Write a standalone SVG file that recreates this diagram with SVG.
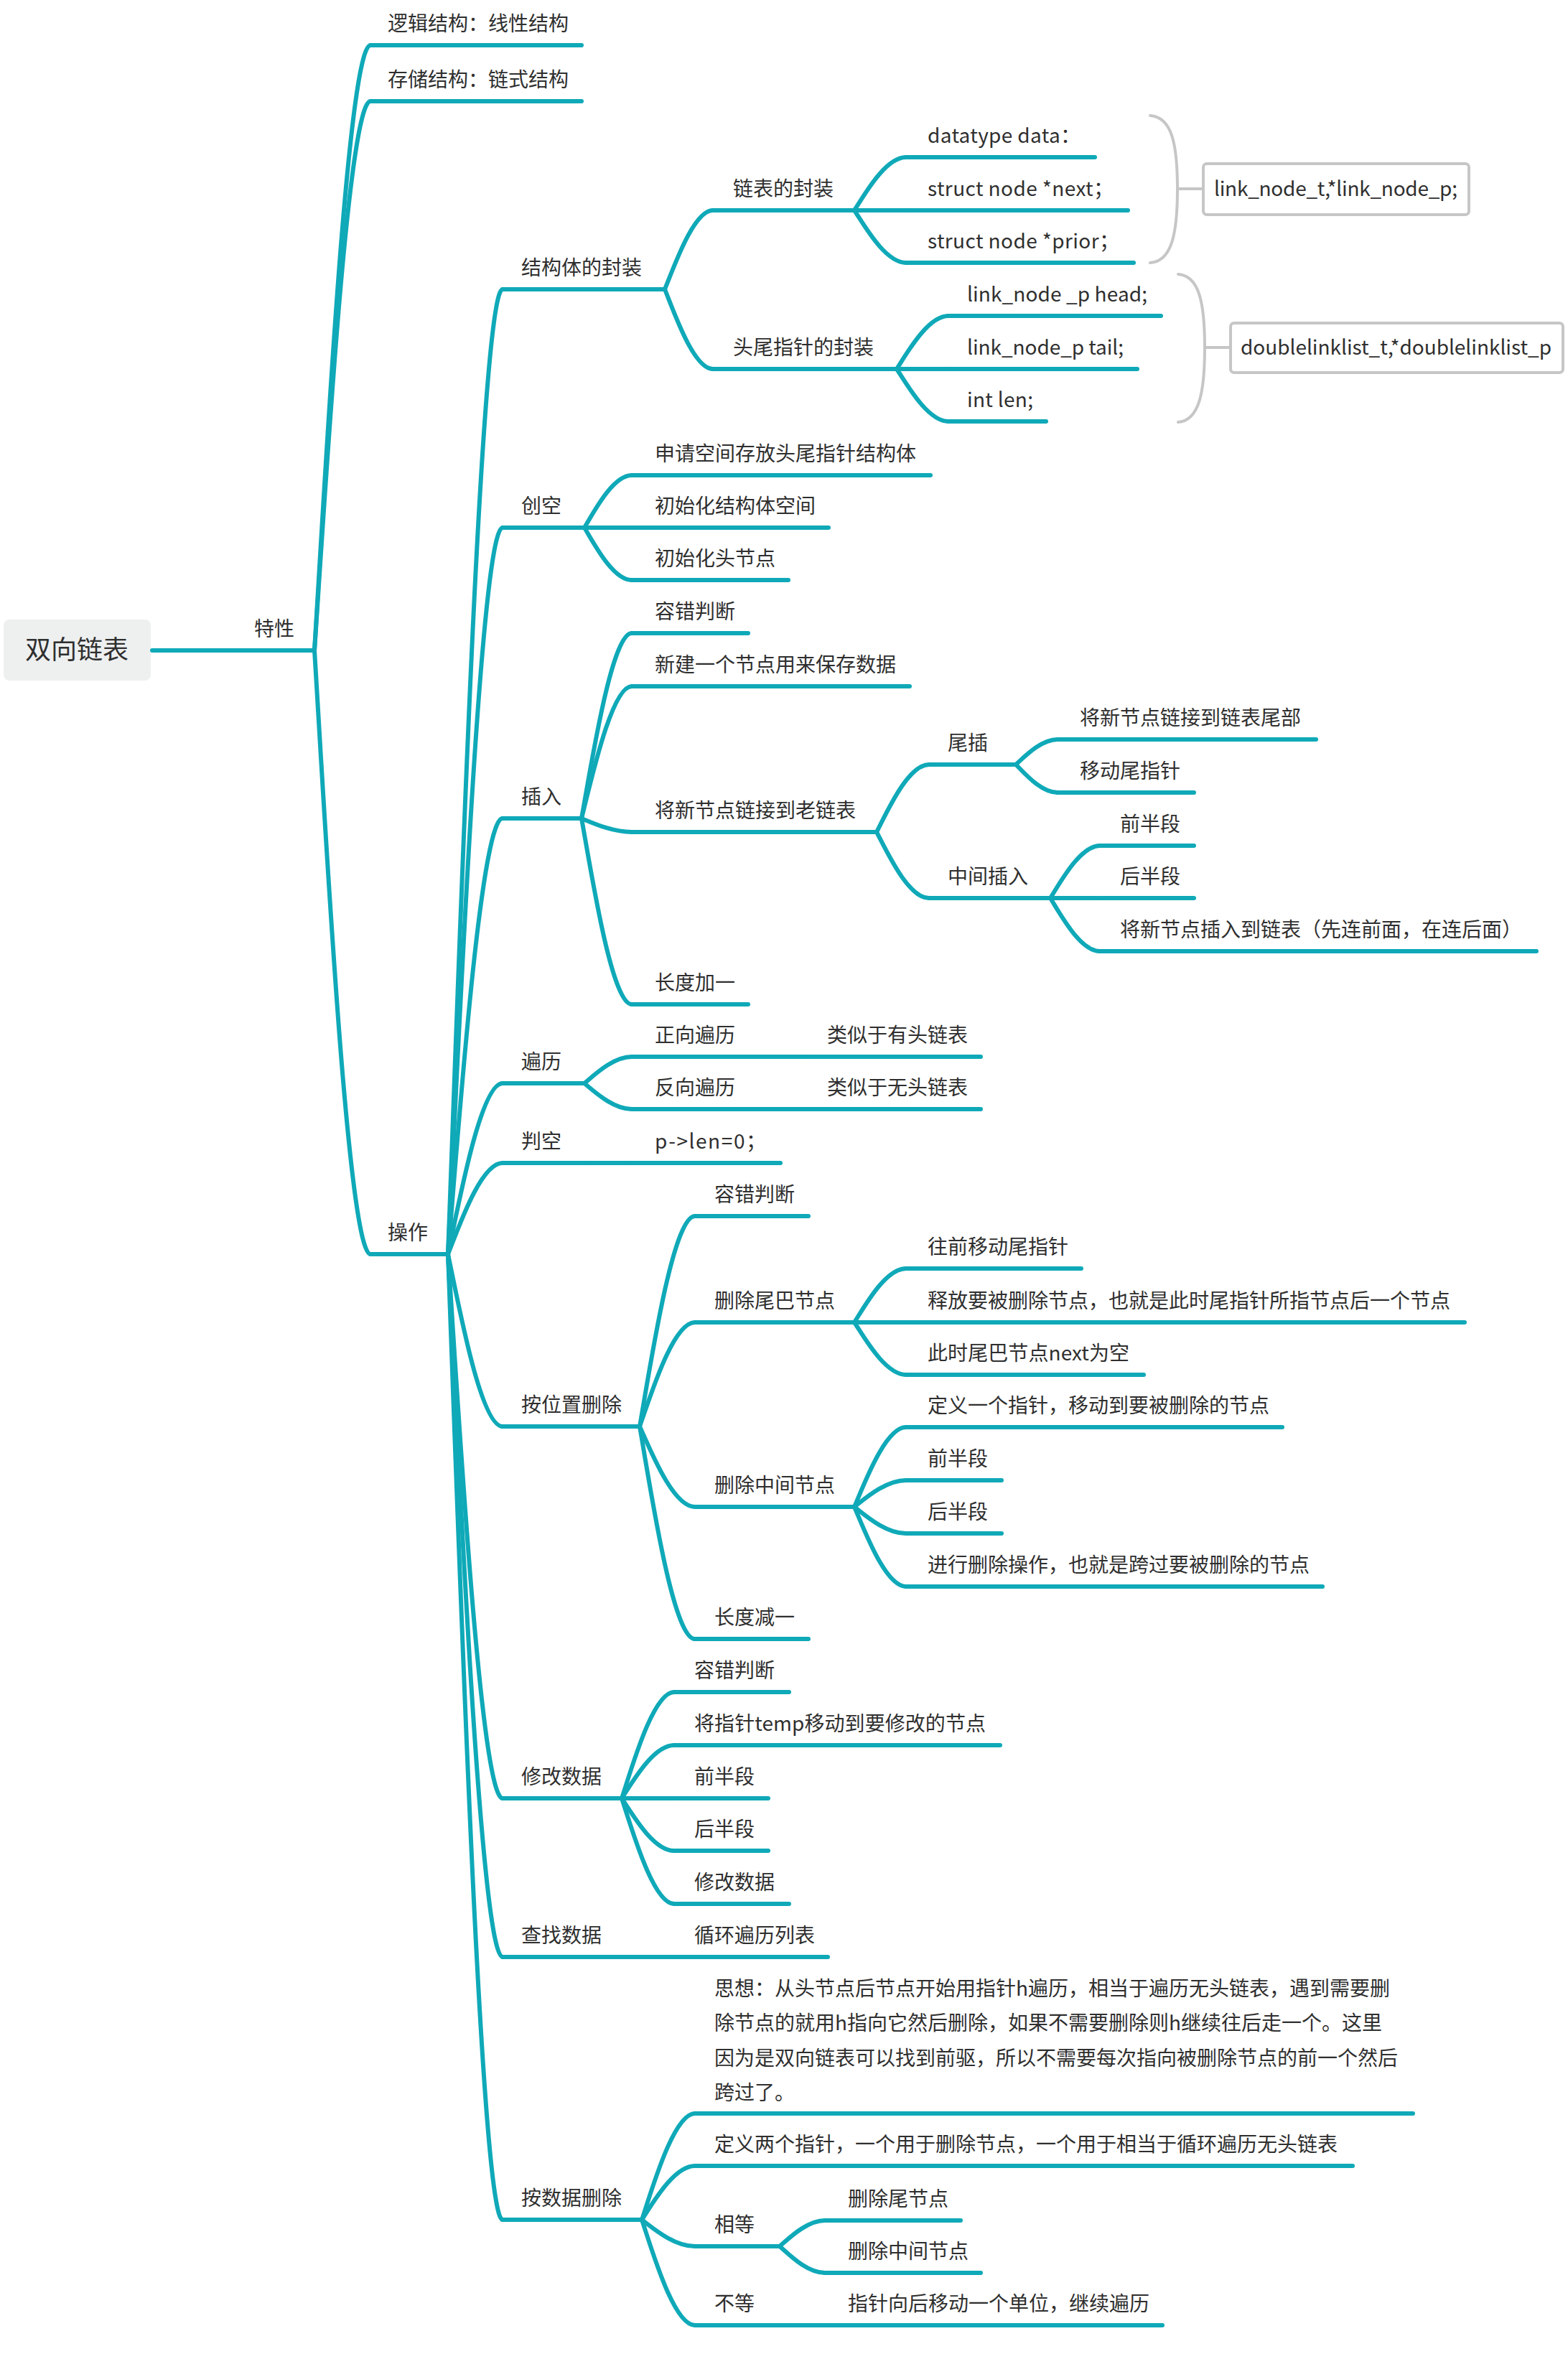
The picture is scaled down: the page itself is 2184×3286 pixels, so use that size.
<svg xmlns="http://www.w3.org/2000/svg" width="2184" height="3286" viewBox="0 0 2184 3286">
<style>
.ul{stroke:#0fa9b8;stroke-width:6;stroke-linecap:round;fill:none}
.cn{stroke:#0fa9b8;stroke-width:6;stroke-linecap:round;fill:none}
.gr{stroke:#c6c6c6;stroke-width:4;fill:none;stroke-linecap:round}
.bx{stroke:#c6c6c6;stroke-width:4;fill:#ffffff}
text{font-family:"Noto Sans CJK SC","Noto Sans",sans-serif;font-size:28px;fill:#2f2f2f}
.root{font-size:36px}
</style>
<rect width="2184" height="3286" fill="#ffffff"/>
<g id="connectors">
<path class="cn" d="M438 906 C453.6 653.1 484.8 63 516 63"/>
<path class="cn" d="M438 906 C453.6 676.5 484.8 141 516 141"/>
<path class="cn" d="M438 906 C453.6 1158.3 484.8 1747 516 1747"/>
<path class="cn" d="M624 1747 C639.2 1343.8 669.6 403 700 403"/>
<path class="cn" d="M624 1747 C639.2 1443.4 669.6 735 700 735"/>
<path class="cn" d="M624 1747 C639.2 1564.9 669.6 1140 700 1140"/>
<path class="cn" d="M624 1747 C639.2 1675.6 669.6 1509 700 1509"/>
<path class="cn" d="M624 1747 C639.2 1708.9 669.6 1620 700 1620"/>
<path class="cn" d="M624 1747 C639.2 1819 669.6 1987 700 1987"/>
<path class="cn" d="M624 1747 C639.2 1974.4 669.6 2505 700 2505"/>
<path class="cn" d="M624 1747 C639.2 2040.7 669.6 2726 700 2726"/>
<path class="cn" d="M624 1747 C639.2 2150.5 669.6 3092 700 3092"/>
<path class="cn" d="M926 403 C939.4 370 966.2 293 993 293"/>
<path class="cn" d="M926 403 C939.4 436.3 966.2 514 993 514"/>
<path class="cn" d="M1190 293 C1204.4 270.8 1233.2 219 1262 219"/>
<path class="cn" d="M1190 293 H1262"/>
<path class="cn" d="M1190 293 C1204.4 314.9 1233.2 366 1262 366"/>
<path class="cn" d="M1249 514 C1263.4 491.8 1292.2 440 1321 440"/>
<path class="cn" d="M1249 514 H1321"/>
<path class="cn" d="M1249 514 C1263.4 535.9 1292.2 587 1321 587"/>
<path class="cn" d="M814 735 C827.2 713.1 853.6 662 880 662"/>
<path class="cn" d="M814 735 H880"/>
<path class="cn" d="M814 735 C827.2 756.9 853.6 808 880 808"/>
<path class="cn" d="M810 1140 C824 1062.6 852 882 880 882"/>
<path class="cn" d="M810 1140 C824 1084.8 852 956 880 956"/>
<path class="cn" d="M810 1140 C824 1145.7 852 1159 880 1159"/>
<path class="cn" d="M810 1140 C824 1217.7 852 1399 880 1399"/>
<path class="cn" d="M1221 1159 C1235.6 1130.8 1264.8 1065 1294 1065"/>
<path class="cn" d="M1221 1159 C1235.6 1186.6 1264.8 1251 1294 1251"/>
<path class="cn" d="M1415 1065 C1426.6 1054.5 1449.8 1030 1473 1030"/>
<path class="cn" d="M1415 1065 C1426.6 1076.7 1449.8 1104 1473 1104"/>
<path class="cn" d="M1463 1251 C1476.8 1229.1 1504.4 1178 1532 1178"/>
<path class="cn" d="M1463 1251 H1532"/>
<path class="cn" d="M1463 1251 C1476.8 1273.2 1504.4 1325 1532 1325"/>
<path class="cn" d="M814 1509 C827.2 1497.9 853.6 1472 880 1472"/>
<path class="cn" d="M814 1509 C827.2 1519.8 853.6 1545 880 1545"/>
<path class="cn" d="M814 1620 H880"/>
<path class="cn" d="M1124 1472 H1126"/>
<path class="cn" d="M1124 1545 H1126"/>
<path class="cn" d="M891 1987 C906.4 1899.1 937.2 1694 968 1694"/>
<path class="cn" d="M891 1987 C906.4 1943.5 937.2 1842 968 1842"/>
<path class="cn" d="M891 1987 C906.4 2020.6 937.2 2099 968 2099"/>
<path class="cn" d="M891 1987 C906.4 2075.8 937.2 2283 968 2283"/>
<path class="cn" d="M1190 1842 C1204.4 1819.5 1233.2 1767 1262 1767"/>
<path class="cn" d="M1190 1842 H1262"/>
<path class="cn" d="M1190 1842 C1204.4 1863.9 1233.2 1915 1262 1915"/>
<path class="cn" d="M1190 2099 C1204.4 2065.7 1233.2 1988 1262 1988"/>
<path class="cn" d="M1190 2099 C1204.4 2087.9 1233.2 2062 1262 2062"/>
<path class="cn" d="M1190 2099 C1204.4 2110.1 1233.2 2136 1262 2136"/>
<path class="cn" d="M1190 2099 C1204.4 2132.3 1233.2 2210 1262 2210"/>
<path class="cn" d="M866 2505 C880.6 2460.6 909.8 2357 939 2357"/>
<path class="cn" d="M866 2505 C880.6 2482.8 909.8 2431 939 2431"/>
<path class="cn" d="M866 2505 H939"/>
<path class="cn" d="M866 2505 C880.6 2526.9 909.8 2578 939 2578"/>
<path class="cn" d="M866 2505 C880.6 2549.1 909.8 2652 939 2652"/>
<path class="cn" d="M894 3092 C908.8 3047.6 938.4 2944 968 2944"/>
<path class="cn" d="M894 3092 C908.8 3069.5 938.4 3017 968 3017"/>
<path class="cn" d="M894 3092 C908.8 3103.1 938.4 3129 968 3129"/>
<path class="cn" d="M894 3092 C908.8 3136.1 938.4 3239 968 3239"/>
<path class="cn" d="M1086 3129 C1098.6 3118.2 1123.8 3093 1149 3093"/>
<path class="cn" d="M1086 3129 C1098.6 3140.1 1123.8 3166 1149 3166"/>
<path class="gr" d="M1602 161 C1632 163 1640 200 1640 263 C1640 326 1632 364 1602 366"/>
<path class="gr" d="M1640 263 H1676"/>
<path class="gr" d="M1641 382 C1670 384 1678 421 1678 484 C1678 547 1670 586 1641 588"/>
<path class="gr" d="M1678 484 H1714"/>
</g>
<g id="root">
<rect x="5" y="863" width="205" height="85" rx="8" fill="#eef0f0"/>
<text class="root" x="35" y="918">双向链表</text>
</g>
<g id="n-texing"><path class="ul" d="M212 906 H438"/><text x="354" y="886">特性</text></g>
<g id="n-luoji"><path class="ul" d="M516 63 H810"/><text x="540" y="43">逻辑结构：线性结构</text></g>
<g id="n-cunchu"><path class="ul" d="M516 141 H810"/><text x="540" y="121">存储结构：链式结构</text></g>
<g id="n-caozuo"><path class="ul" d="M516 1747 H624"/><text x="540" y="1727">操作</text></g>
<g id="n-jiegou"><path class="ul" d="M700 403 H926"/><text x="726" y="383">结构体的封装</text></g>
<g id="n-lianbiao"><path class="ul" d="M993 293 H1190"/><text x="1021" y="273">链表的封装</text></g>
<g id="n-data"><path class="ul" d="M1262 219 H1525"/><text x="1292" y="199" textLength="213">datatype data：</text></g>
<g id="n-next"><path class="ul" d="M1262 293 H1571"/><text x="1292" y="273" textLength="259">struct node *next；</text></g>
<g id="n-prior"><path class="ul" d="M1262 366 H1579"/><text x="1292" y="346" textLength="267">struct node *prior；</text></g>
<g id="n-box1"><rect class="bx" x="1676" y="228" width="370" height="71" rx="5"/><text x="1691" y="273" textLength="339">link_node_t,*link_node_p;</text></g>
<g id="n-touwei"><path class="ul" d="M993 514 H1249"/><text x="1021" y="494">头尾指针的封装</text></g>
<g id="n-head"><path class="ul" d="M1321 440 H1617"/><text x="1347" y="420" textLength="251">link_node _p head;</text></g>
<g id="n-tail"><path class="ul" d="M1321 514 H1584"/><text x="1347" y="494" textLength="218">link_node_p tail;</text></g>
<g id="n-len"><path class="ul" d="M1321 587 H1457"/><text x="1347" y="567" textLength="92">int len;</text></g>
<g id="n-box2"><rect class="bx" x="1714" y="450" width="463" height="69" rx="5"/><text x="1728" y="494" textLength="433">doublelinklist_t,*doublelinklist_p</text></g>
<g id="n-chuangkong"><path class="ul" d="M700 735 H814"/><text x="726" y="715">创空</text></g>
<g id="n-shenqing"><path class="ul" d="M880 662 H1296"/><text x="912" y="642">申请空间存放头尾指针结构体</text></g>
<g id="n-chushihua1"><path class="ul" d="M880 735 H1154"/><text x="912" y="715">初始化结构体空间</text></g>
<g id="n-chushihua2"><path class="ul" d="M880 808 H1098"/><text x="912" y="788">初始化头节点</text></g>
<g id="n-charu"><path class="ul" d="M700 1140 H810"/><text x="726" y="1120">插入</text></g>
<g id="n-charu-rc"><path class="ul" d="M880 882 H1042"/><text x="912" y="862">容错判断</text></g>
<g id="n-xinjian"><path class="ul" d="M880 956 H1267"/><text x="912" y="936">新建一个节点用来保存数据</text></g>
<g id="n-lianjie"><path class="ul" d="M880 1159 H1221"/><text x="912" y="1139">将新节点链接到老链表</text></g>
<g id="n-jiayi"><path class="ul" d="M880 1399 H1042"/><text x="912" y="1379">长度加一</text></g>
<g id="n-weicha"><path class="ul" d="M1294 1065 H1415"/><text x="1320" y="1045">尾插</text></g>
<g id="n-weibu"><path class="ul" d="M1473 1030 H1833"/><text x="1504" y="1010">将新节点链接到链表尾部</text></g>
<g id="n-yidong"><path class="ul" d="M1473 1104 H1663"/><text x="1504" y="1084">移动尾指针</text></g>
<g id="n-zhongjian"><path class="ul" d="M1294 1251 H1463"/><text x="1320" y="1231">中间插入</text></g>
<g id="n-ci-qian"><path class="ul" d="M1532 1178 H1663"/><text x="1560" y="1158">前半段</text></g>
<g id="n-ci-hou"><path class="ul" d="M1532 1251 H1663"/><text x="1560" y="1231">后半段</text></g>
<g id="n-ci-insert"><path class="ul" d="M1532 1325 H2140"/><text x="1560" y="1305">将新节点插入到链表（先连前面，在连后面）</text></g>
<g id="n-bianli"><path class="ul" d="M700 1509 H814"/><text x="726" y="1489">遍历</text></g>
<g id="n-zhengxiang"><path class="ul" d="M880 1472 H1124"/><text x="912" y="1452">正向遍历</text></g>
<g id="n-youtou"><path class="ul" d="M1124 1472 H1366"/><text x="1152" y="1452">类似于有头链表</text></g>
<g id="n-fanxiang"><path class="ul" d="M880 1545 H1124"/><text x="912" y="1525">反向遍历</text></g>
<g id="n-wutou"><path class="ul" d="M1124 1545 H1366"/><text x="1152" y="1525">类似于无头链表</text></g>
<g id="n-pankong"><path class="ul" d="M700 1620 H814"/><text x="726" y="1600">判空</text></g>
<g id="n-plen"><path class="ul" d="M880 1620 H1087"/><text x="912" y="1600" textLength="155">p-&gt;len=0；</text></g>
<g id="n-anweizhi"><path class="ul" d="M700 1987 H891"/><text x="726" y="1967">按位置删除</text></g>
<g id="n-aw-rc"><path class="ul" d="M968 1694 H1126"/><text x="995" y="1674">容错判断</text></g>
<g id="n-weiba"><path class="ul" d="M968 1842 H1190"/><text x="995" y="1822">删除尾巴节点</text></g>
<g id="n-wangqian"><path class="ul" d="M1262 1767 H1506"/><text x="1292" y="1747">往前移动尾指针</text></g>
<g id="n-shifang"><path class="ul" d="M1262 1842 H2040"/><text x="1292" y="1822">释放要被删除节点，也就是此时尾指针所指节点后一个节点</text></g>
<g id="n-cishi"><path class="ul" d="M1262 1915 H1593"/><text x="1292" y="1895" textLength="281">此时尾巴节点next为空</text></g>
<g id="n-zhongjianjd"><path class="ul" d="M968 2099 H1190"/><text x="995" y="2079">删除中间节点</text></g>
<g id="n-dingyi1"><path class="ul" d="M1262 1988 H1786"/><text x="1292" y="1968">定义一个指针，移动到要被删除的节点</text></g>
<g id="n-dz-qian"><path class="ul" d="M1262 2062 H1395"/><text x="1292" y="2042">前半段</text></g>
<g id="n-dz-hou"><path class="ul" d="M1262 2136 H1395"/><text x="1292" y="2116">后半段</text></g>
<g id="n-jinxing"><path class="ul" d="M1262 2210 H1842"/><text x="1292" y="2190">进行删除操作，也就是跨过要被删除的节点</text></g>
<g id="n-jianyi"><path class="ul" d="M968 2283 H1126"/><text x="995" y="2263">长度减一</text></g>
<g id="n-xiugai"><path class="ul" d="M700 2505 H866"/><text x="726" y="2485">修改数据</text></g>
<g id="n-xg-rc"><path class="ul" d="M939 2357 H1099"/><text x="967" y="2337">容错判断</text></g>
<g id="n-temp"><path class="ul" d="M939 2431 H1393"/><text x="967" y="2411" textLength="406">将指针temp移动到要修改的节点</text></g>
<g id="n-xg-qian"><path class="ul" d="M939 2505 H1070"/><text x="967" y="2485">前半段</text></g>
<g id="n-xg-hou"><path class="ul" d="M939 2578 H1070"/><text x="967" y="2558">后半段</text></g>
<g id="n-xg-xg"><path class="ul" d="M939 2652 H1099"/><text x="967" y="2632">修改数据</text></g>
<g id="n-chazhao"><path class="ul" d="M700 2726 H939"/><text x="726" y="2706">查找数据</text></g>
<g id="n-xunhuan"><path class="ul" d="M939 2726 H1153"/><text x="967" y="2706">循环遍历列表</text></g>
<g id="n-anshuju"><path class="ul" d="M700 3092 H894"/><text x="726" y="3072">按数据删除</text></g>
<g id="n-sixiang"><path class="ul" d="M968 2944 H1968"/>
<text x="995" y="2780">思想：从头节点后节点开始用指针h遍历，相当于遍历无头链表，遇到需要删</text>
<text x="995" y="2828">除节点的就用h指向它然后删除，如果不需要删除则h继续往后走一个。这里</text>
<text x="995" y="2877">因为是双向链表可以找到前驱，所以不需要每次指向被删除节点的前一个然后</text>
<text x="995" y="2925">跨过了。</text>
</g>
<g id="n-dingyi2"><path class="ul" d="M968 3017 H1884"/><text x="995" y="2997">定义两个指针，一个用于删除节点，一个用于相当于循环遍历无头链表</text></g>
<g id="n-xiangdeng"><path class="ul" d="M968 3129 H1086"/><text x="995" y="3109">相等</text></g>
<g id="n-weijd"><path class="ul" d="M1149 3093 H1338"/><text x="1181" y="3073">删除尾节点</text></g>
<g id="n-zjjd"><path class="ul" d="M1149 3166 H1366"/><text x="1181" y="3146">删除中间节点</text></g>
<g id="n-budeng"><path class="ul" d="M968 3239 H1150"/><text x="995" y="3219">不等</text></g>
<g id="n-houyi"><path class="ul" d="M1150 3239 H1619"/><text x="1181" y="3219">指针向后移动一个单位，继续遍历</text></g>
</svg>
